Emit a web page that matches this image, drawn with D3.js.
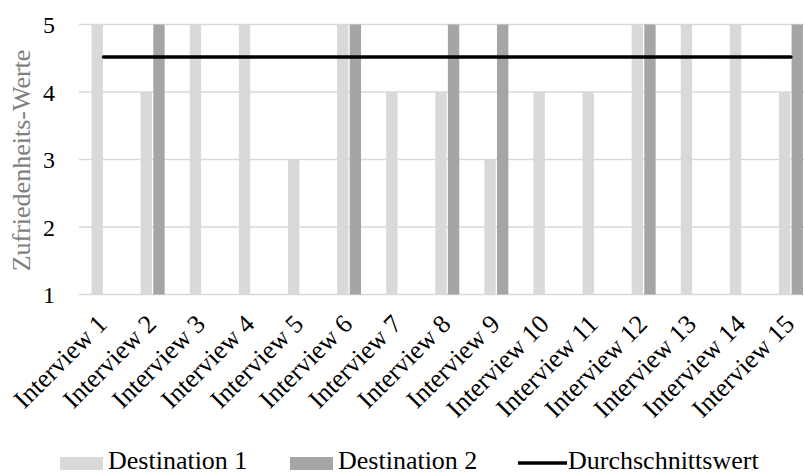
<!DOCTYPE html>
<html>
<head>
<meta charset="utf-8">
<script src="https://cdn.jsdelivr.net/npm/d3@7"></script>
<style>
	html, body { margin: 0; padding: 0; background: #fff; overflow: hidden; }
</style>
</head>
<body>
<script>
// data
const interviews = ['Interview 1', 'Interview 2', 'Interview 3', 'Interview 4', 'Interview 5',
	'Interview 6', 'Interview 7', 'Interview 8', 'Interview 9', 'Interview 10',
	'Interview 11', 'Interview 12', 'Interview 13', 'Interview 14', 'Interview 15'];
const destination1 = [5, 4, 5, 5, 3, 5, 4, 4, 3, 4, 4, 5, 5, 5, 4];
// null = no bar for that interview
const destination2 = [null, 5, null, null, null, 5, null, 5, 5, null, null, 5, null, null, 5];
const averageValue = 4.52;
const yTicks = [1, 2, 3, 4, 5];
const seriesNames = ['Destination 1', 'Destination 2', 'Durchschnittswert'];

const width = 804;
const height = 475;
const margin = { top: 24.5, right: -11.5, bottom: 180.5, left: 79 };
const colors = { d1: '#d9d9d9', d2: '#a5a5a5', avg: '#000000', grid: '#d9d9d9' };
const serif = 'Times New Roman, Times, Liberation Serif, Tinos, Noto Serif, FreeSerif, DejaVu Serif, serif';

const rows = interviews.map((name, i) => ({ name, d1: destination1[i], d2: destination2[i] }));

const svg = d3.select('body').append('svg').attr('width', width).attr('height', height)
	.style('display', 'block').attr('font-family', serif);

const x = d3.scaleBand().domain(interviews).range([margin.left, width - margin.right]).padding(0);
const groupHalf = 12;
const x1 = d3
	.scaleBand()
	.domain(['d1', 'd2'])
	.range([x.bandwidth() / 2 - groupHalf, x.bandwidth() / 2 + groupHalf])
	.paddingInner(0.1);
const y = d3.scaleLinear().domain([1, 5]).range([height - margin.bottom, margin.top]);

// gridlines
svg.append('g')
	.selectAll('line')
	.data(yTicks)
	.join('line')
	.attr('x1', margin.left)
	.attr('x2', width - margin.right)
	.attr('y1', (d) => y(d))
	.attr('y2', (d) => y(d))
	.attr('stroke', colors.grid)
	.attr('stroke-width', 1.5);

// y tick labels
const yAxis = svg
	.append('g')
	.attr('transform', `translate(${margin.left},0)`)
	.call(d3.axisLeft(y).tickValues(yTicks).tickSize(0).tickPadding(24).tickFormat(d3.format('d')))
	.attr('font-family', serif)
	.attr('font-size', 24);
yAxis.select('.domain').remove();
yAxis.selectAll('text').attr('fill', '#000').attr('dy', '0.34em');

// y title
svg.append('text')
	.attr('transform', `translate(30,${(y(1) + y(5)) / 2 + 1}) rotate(-90)`)
	.attr('text-anchor', 'middle')
	.attr('font-size', 26)
	.attr('fill', '#7f7f7f')
	.text('Zufriedenheits-Werte');

// bars
const groups = svg
	.append('g')
	.selectAll('g')
	.data(rows)
	.join('g')
	.attr('transform', (d) => `translate(${x(d.name)},0)`);

groups
	.selectAll('rect')
	.data((d) => ['d1', 'd2'].filter((k) => d[k] != null).map((k) => ({ key: k, value: d[k] })))
	.join('rect')
	.attr('x', (d) => x1(d.key))
	.attr('width', x1.bandwidth())
	.attr('y', (d) => y(d.value))
	.attr('height', (d) => y(1) - y(d.value))
	.attr('fill', (d) => colors[d.key]);

// average line
svg.append('line')
	.attr('x1', x(interviews[0]) + x.bandwidth() / 2)
	.attr('x2', x(interviews[interviews.length - 1]) + x.bandwidth() / 2)
	.attr('y1', y(averageValue))
	.attr('y2', y(averageValue))
	.attr('stroke', colors.avg)
	.attr('stroke-width', 3.5)
	.attr('stroke-linecap', 'round');

// x labels
svg.append('g')
	.selectAll('text')
	.data(interviews)
	.join('text')
	.attr('transform', (d) => `translate(${x(d) + x.bandwidth() / 2 + 5},${y(1) + 31}) rotate(-45)`)
	.attr('text-anchor', 'end')
	.attr('font-size', 26)
	.attr('fill', '#000')
	.text((d) => d);

// legend
const legend = svg.append('g').attr('font-size', 26);
const legendItems = [
	{ name: seriesNames[0], x: 60, type: 'rect', color: colors.d1 },
	{ name: seriesNames[1], x: 290, type: 'rect', color: colors.d2 },
	{ name: seriesNames[2], x: 518, type: 'line', color: colors.avg },
];
legendItems.forEach((it) => {
	if (it.type === 'rect') {
		legend.append('rect').attr('x', it.x).attr('y', 457).attr('width', 43).attr('height', 13).attr('fill', it.color);
	} else {
		legend.append('line')
			.attr('x1', it.x)
			.attr('x2', it.x + 49)
			.attr('y1', 463)
			.attr('y2', 463)
			.attr('stroke', it.color)
			.attr('stroke-width', 3.5);
	}
	legend.append('text')
		.attr('x', it.x + (it.type === 'rect' ? 48 : 50))
		.attr('y', 469)
		.attr('fill', '#000')
		.text(it.name);
});
</script>
</body>
</html>
